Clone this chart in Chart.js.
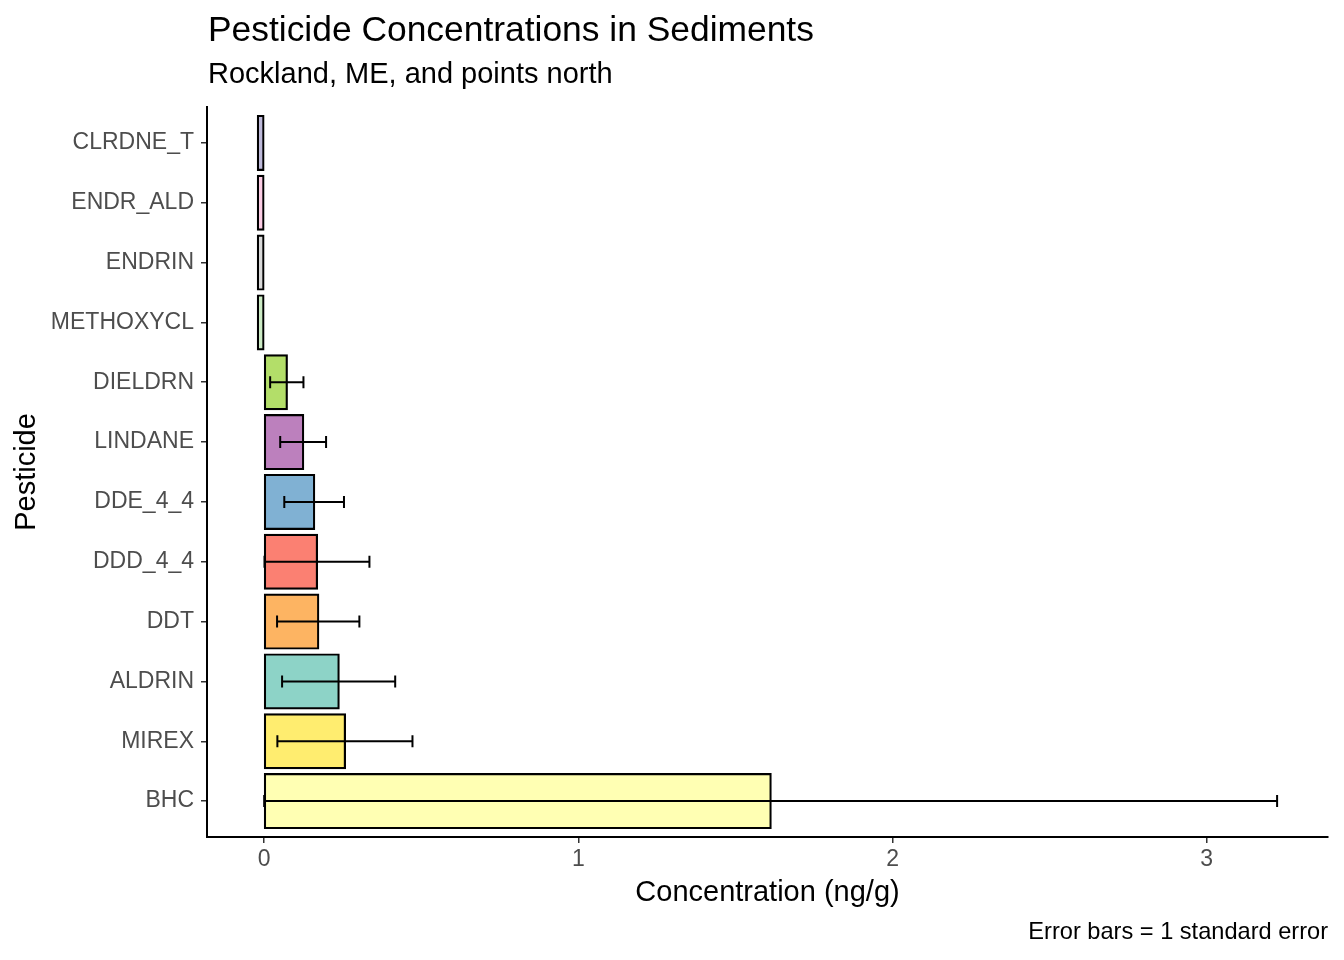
<!DOCTYPE html>
<html>
<head>
<meta charset="utf-8">
<script src="https://cdn.jsdelivr.net/npm/chart.js@4.4.1/dist/chart.umd.min.js"></script>
<style>
  html, body { margin: 0; padding: 0; background: #fff; }
  #wrap { width: 1344px; height: 960px; position: relative; }
</style>
</head>
<body>
<div id="wrap"><canvas id="chart"></canvas></div>
<script>
// Pesticides, top to bottom as drawn
const pesticides = ['CLRDNE_T', 'ENDR_ALD', 'ENDRIN', 'METHOXYCL', 'DIELDRN', 'LINDANE',
  'DDE_4_4', 'DDD_4_4', 'DDT', 'ALDRIN', 'MIREX', 'BHC'];
const meanConc = [-0.02, -0.02, -0.02, -0.02, 0.072, 0.124, 0.159, 0.168, 0.172, 0.237, 0.257, 1.612];
const stdErr = [null, null, null, null, 0.053, 0.073, 0.095, 0.167, 0.131, 0.180, 0.215, 1.612];
const barColors = ['#BEBADA', '#FCCDE5', '#D9D9D9', '#CCEBC5', '#B3DE69', '#BC80BD',
  '#80B1D3', '#FB8072', '#FDB462', '#8DD3C7', '#FFED6F', '#FFFFB3'];
const xTicks = [0, 1, 2, 3];

const FONT = "'Liberation Sans', Arial, Helvetica, sans-serif";

// error bars drawn on top of the bars
const errorBars = {
  id: 'errorBars',
  afterDatasetsDraw(chart) {
    const { ctx, scales: { x, y } } = chart;
    ctx.save();
    ctx.strokeStyle = '#000';
    ctx.lineWidth = 2;
    meanConc.forEach((m, i) => {
      if (stdErr[i] == null) return;
      const yp = y.getPixelForValue(i);
      const x1 = x.getPixelForValue(m - stdErr[i]);
      const x2 = x.getPixelForValue(m + stdErr[i]);
      ctx.beginPath();
      ctx.moveTo(x1, yp); ctx.lineTo(x2, yp);
      ctx.moveTo(x1, yp - 6); ctx.lineTo(x1, yp + 6);
      ctx.moveTo(x2, yp - 6); ctx.lineTo(x2, yp + 6);
      ctx.stroke();
    });
    ctx.restore();
  }
};

// title, subtitle and caption, ggplot style
const labelsPlugin = {
  id: 'labelsPlugin',
  afterDraw(chart) {
    const { ctx, chartArea } = chart;
    ctx.save();
    ctx.fillStyle = '#000';
    ctx.textBaseline = 'middle';
    ctx.textAlign = 'left';
    ctx.font = `35.4px ${FONT}`;
    ctx.fillText('Pesticide Concentrations in Sediments', chartArea.left + 1, 31);
    ctx.font = `29px ${FONT}`;
    ctx.fillText('Rockland, ME, and points north', chartArea.left + 1, 75);
    ctx.textAlign = 'right';
    ctx.font = `23.6px ${FONT}`;
    ctx.fillText('Error bars = 1 standard error', chartArea.right, 932);
    ctx.restore();
  }
};

new Chart(document.getElementById('chart'), {
  type: 'bar',
  data: {
    datasets: [{
      data: meanConc.map((v, i) => ({ x: v, y: i })),
      backgroundColor: barColors,
      borderColor: '#000',
      borderWidth: 2.2,
      borderSkipped: false,
      inflateAmount: 1.1,
      categoryPercentage: 1,
      barPercentage: 0.9
    }]
  },
  options: {
    indexAxis: 'y',
    responsive: true,
    maintainAspectRatio: false,
    animation: false,
    layout: { padding: { top: 107, right: 16, bottom: 50, left: 0 } },
    plugins: {
      legend: { display: false },
      tooltip: { enabled: false }
    },
    scales: {
      x: {
        type: 'linear',
        min: -0.182,
        max: 3.386,
        afterBuildTicks: (s) => { s.ticks = xTicks.map(v => ({ value: v })); },
        afterFit: (s) => { s.height = 73; },
        grid: { drawOnChartArea: false, tickLength: 6, color: '#333', lineWidth: 1.5 },
        border: { display: true, color: '#000', width: 2 },
        ticks: { color: '#4D4D4D', font: { family: FONT, size: 23 }, padding: 3 },
        title: { display: true, text: 'Concentration (ng/g)', color: '#000',
          font: { family: FONT, size: 29 }, padding: { top: 0, bottom: 0 } }
      },
      y: {
        type: 'linear',
        reverse: true,
        offset: false,
        min: -0.6,
        max: pesticides.length - 0.4,
        afterBuildTicks: (s) => { s.ticks = pesticides.map((_, i) => ({ value: i })); },
        afterFit: (s) => { s.width = 207; },
        grid: { offset: false, drawOnChartArea: false, tickLength: 6, color: '#333', lineWidth: 1.5 },
        border: { display: true, color: '#000', width: 2 },
        ticks: { color: '#4D4D4D', font: { family: FONT, size: 23 }, padding: 7,
          autoSkip: false, callback: (v) => pesticides[v] },
        title: { display: true, text: 'Pesticide', color: '#000',
          font: { family: FONT, size: 29 }, padding: { top: 10, bottom: 4 } }
      }
    }
  },
  plugins: [errorBars, labelsPlugin]
});
</script>
</body>
</html>
